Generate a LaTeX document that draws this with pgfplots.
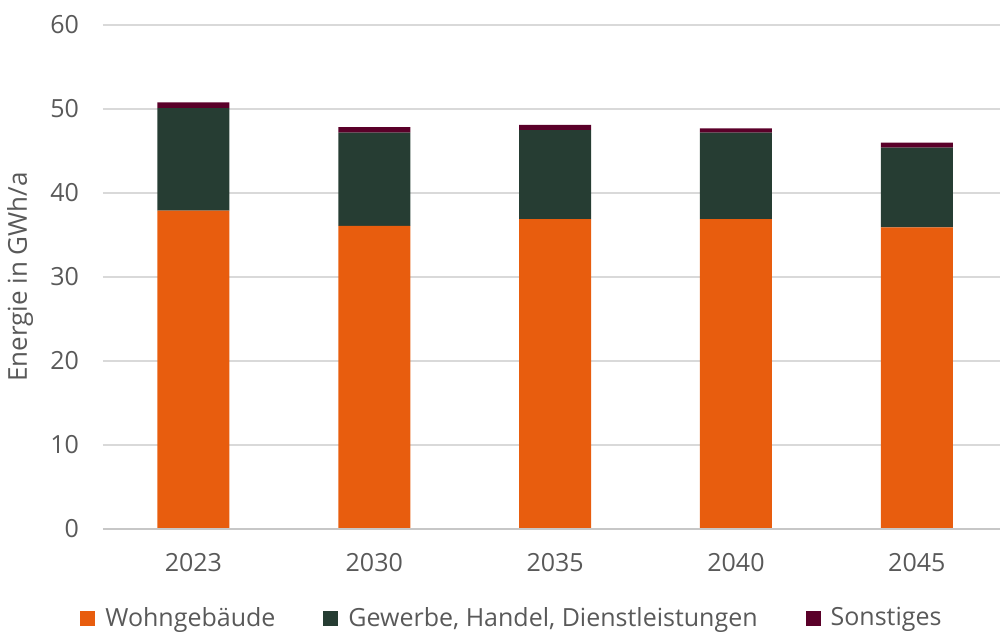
\documentclass[border=0pt]{standalone}
\usepackage{pgfplots}
\pgfplotsset{compat=1.18}
\usepackage{fontspec}
\setmainfont{Open Sans}
\definecolor{wohn}{RGB}{232,93,14}
\definecolor{ghd}{RGB}{38,61,51}
\definecolor{sonst}{RGB}{90,0,41}
\definecolor{txt}{RGB}{89,89,89}
\definecolor{grd}{RGB}{217,217,217}
\begin{document}
\begin{tikzpicture}
\path[use as bounding box] (-51.5pt,-52pt) rectangle (448.5pt,264.5pt);
\begin{axis}[
  at={(0pt,0pt)}, anchor=south west,
  scale only axis,
  width=448.5pt, height=252pt,
  ybar stacked,
  bar width=36pt,
  xmin=-0.5, xmax=4.46,
  ymin=0, ymax=60,
  ytick={0,10,20,30,40,50,60},
  xtick=data,
  xticklabels={2023,2030,2035,2040,2045},
  axis line style={draw=none},
  ymajorgrids,
  grid style={grd, line width=0.8pt},
  major tick length=0pt,
  tick label style={font=\fontsize{12.5}{14}\selectfont, text=txt},
  /pgf/number format/assume math mode=true,
  yticklabel style={anchor=east, xshift=-8.5pt},
  xticklabel style={anchor=center, yshift=-17pt},
  ylabel={Energie in GWh/a},
  ylabel style={font=\fontsize{13}{15}\selectfont, text=txt, at={(-41.5pt,126pt)}, anchor=center, rotate=0},
  legend style={draw=none, fill=none, at={(0.457,-0.177)}, anchor=center,
    legend columns=3, font=\fontsize{12.5}{14}\selectfont, text=txt,
    /tikz/every even column/.append style={column sep=22pt}},
  legend image code/.code={\draw[#1, draw=none] (0pt,-3.8pt) rectangle (7.5pt,3.8pt); \path (10.5pt,0pt);},
  clip=false,
]
\draw[grd!80!gray, line width=0.8pt] (axis cs:-0.5,0) -- (axis cs:4.46,0);
\addplot[fill=wohn, draw=none] coordinates {(0,37.9) (1,36.1) (2,36.9) (3,36.9) (4,35.9)};
\addplot[fill=ghd, draw=none] coordinates {(0,12.2) (1,11.1) (2,10.6) (3,10.3) (4,9.5)};
\addplot[fill=sonst, draw=none] coordinates {(0,0.7) (1,0.65) (2,0.6) (3,0.5) (4,0.6)};
\legend{Wohngebäude, {Gewerbe, Handel, Dienstleistungen}, Sonstiges}
\end{axis}
\end{tikzpicture}
\end{document}
